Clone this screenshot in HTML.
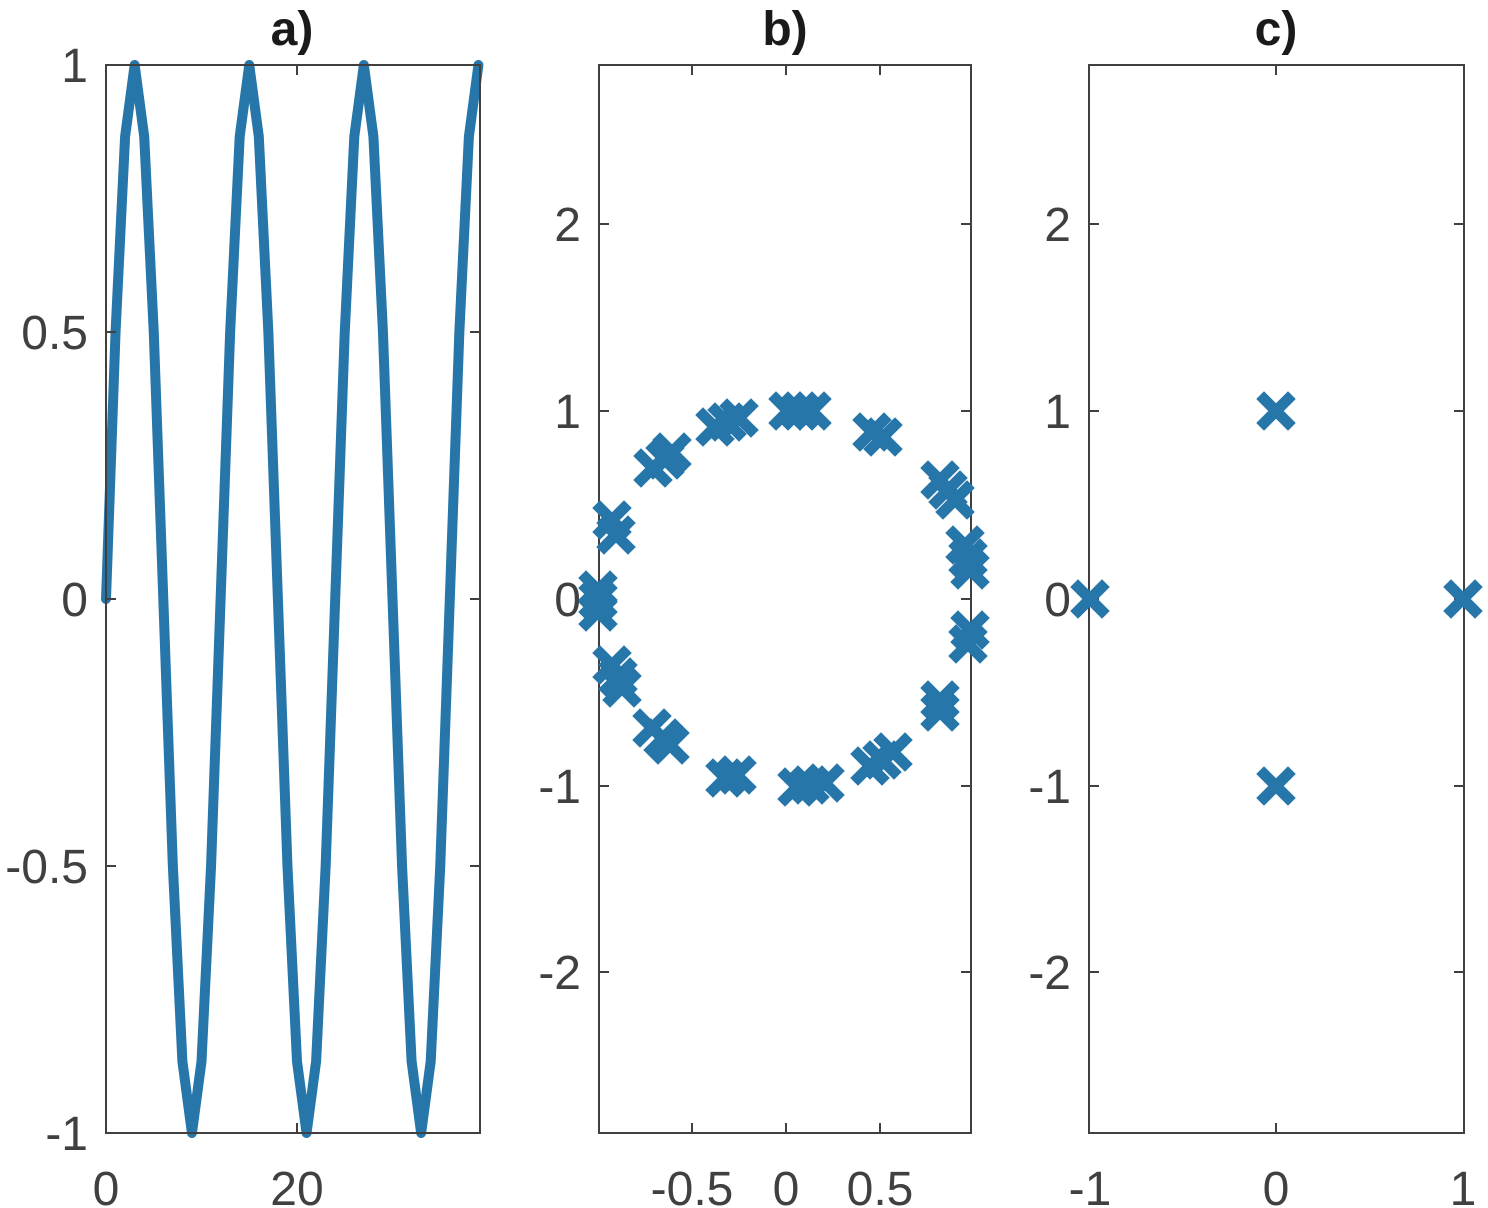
<!DOCTYPE html>
<html><head><meta charset="utf-8"><style>
html,body{margin:0;padding:0;background:#fff}
svg{display:block}
text{font-family:"Liberation Sans",sans-serif;fill:#404040;font-size:48px}
.t{font-weight:bold;fill:#1a1a1a;font-size:48px}
</style></head><body>
<svg width="1488" height="1208" viewBox="0 0 1488 1208" xmlns="http://www.w3.org/2000/svg">
<defs>
<g id="x"><path d="M-12,-12L12,12M-12,12L12,-12" stroke="#2676aa" stroke-width="11" stroke-linecap="square"/></g>
</defs>
<polyline transform="translate(106,599) scale(9.55,534)" vector-effect="non-scaling-stroke" fill="none" stroke="#2676aa" stroke-width="10" stroke-linejoin="round" stroke-linecap="round"
points="0,0 1,-.5 2,-.866 3,-1 4,-.866 5,-.5 6,0 7,.5 8,.866 9,1 10,.866 11,.5 12,0 13,-.5 14,-.866 15,-1 16,-.866 17,-.5 18,0 19,.5 20,.866 21,1 22,.866 23,.5 24,0 25,-.5 26,-.866 27,-1 28,-.866 29,-.5 30,0 31,.5 32,.866 33,1 34,.866 35,.5 36,0 37,-.5 38,-.866 39,-1"/>
<g stroke="#404040" stroke-width="2" fill="none">
<rect x="106" y="65" width="374" height="1068"/>
<path d="M106,65h10M106,332h10M106,599h10M106,866h10M106,1133h10M480,65h-10M480,332h-10M480,599h-10M480,866h-10M480,1133h-10M106,1133v-10M297,1133v-10M106,65v10M297,65v10"/>
<rect x="599" y="65" width="372" height="1068"/>
<path d="M599,224h10M599,411h10M599,599h10M599,786h10M599,972h10M971,224h-10M971,411h-10M971,599h-10M971,786h-10M971,972h-10M692,1133v-10M786,1133v-10M880,1133v-10M692,65v10M786,65v10M880,65v10"/>
<rect x="1089" y="65" width="375" height="1068"/>
<path d="M1089,224h10M1089,411h10M1089,599h10M1089,786h10M1089,972h10M1464,224h-10M1464,411h-10M1464,599h-10M1464,786h-10M1464,972h-10M1276,1133v-10M1276,65v10"/>
</g>
<g text-anchor="end">
<text x="88" y="82">1</text><text x="88" y="349">0.5</text><text x="88" y="616">0</text><text x="88" y="883">-0.5</text><text x="88" y="1150">-1</text>
<text x="581" y="241">2</text><text x="581" y="428">1</text><text x="581" y="616">0</text><text x="581" y="803">-1</text><text x="581" y="989">-2</text>
<text x="1071" y="241">2</text><text x="1071" y="428">1</text><text x="1071" y="616">0</text><text x="1071" y="803">-1</text><text x="1071" y="989">-2</text>
</g>
<g text-anchor="middle">
<text x="106" y="1205">0</text><text x="297" y="1205">20</text>
<text x="692" y="1205">-0.5</text><text x="786" y="1205">0</text><text x="880" y="1205">0.5</text>
<text x="1090" y="1205">-1</text><text x="1276" y="1205">0</text><text x="1463" y="1205">1</text>
<text class="t" x="292" y="45">a)</text><text class="t" x="785" y="45">b)</text><text class="t" x="1276" y="45">c)</text>
</g>
<g>
<use href="#x" x="788" y="411"/><use href="#x" x="800" y="411"/><use href="#x" x="812" y="411"/>
<use href="#x" x="715" y="427"/><use href="#x" x="727" y="422"/><use href="#x" x="739" y="418"/>
<use href="#x" x="653" y="468"/><use href="#x" x="665" y="460"/><use href="#x" x="672" y="452"/>
<use href="#x" x="612" y="520"/><use href="#x" x="616" y="535"/>
<use href="#x" x="598" y="590"/><use href="#x" x="598" y="600"/><use href="#x" x="598" y="612"/>
<use href="#x" x="612" y="665"/><use href="#x" x="618" y="677"/><use href="#x" x="622" y="688"/>
<use href="#x" x="652" y="728"/><use href="#x" x="663" y="738"/><use href="#x" x="670" y="745"/>
<use href="#x" x="725" y="778"/><use href="#x" x="737" y="775"/>
<use href="#x" x="797" y="787"/><use href="#x" x="810" y="785"/><use href="#x" x="825" y="783"/>
<use href="#x" x="870" y="766"/><use href="#x" x="882" y="760"/><use href="#x" x="893" y="752"/>
<use href="#x" x="940" y="700"/><use href="#x" x="940" y="712"/>
<use href="#x" x="970" y="630"/><use href="#x" x="968" y="644"/>
<use href="#x" x="965" y="545"/><use href="#x" x="968" y="558"/><use href="#x" x="970" y="570"/>
<use href="#x" x="940" y="480"/><use href="#x" x="948" y="490"/><use href="#x" x="955" y="500"/>
<use href="#x" x="872" y="432"/><use href="#x" x="883" y="437"/>
</g>
<use href="#x" x="1090" y="599"/><use href="#x" x="1463" y="599"/><use href="#x" x="1276" y="411"/><use href="#x" x="1276" y="786"/>
</svg>
</body></html>
